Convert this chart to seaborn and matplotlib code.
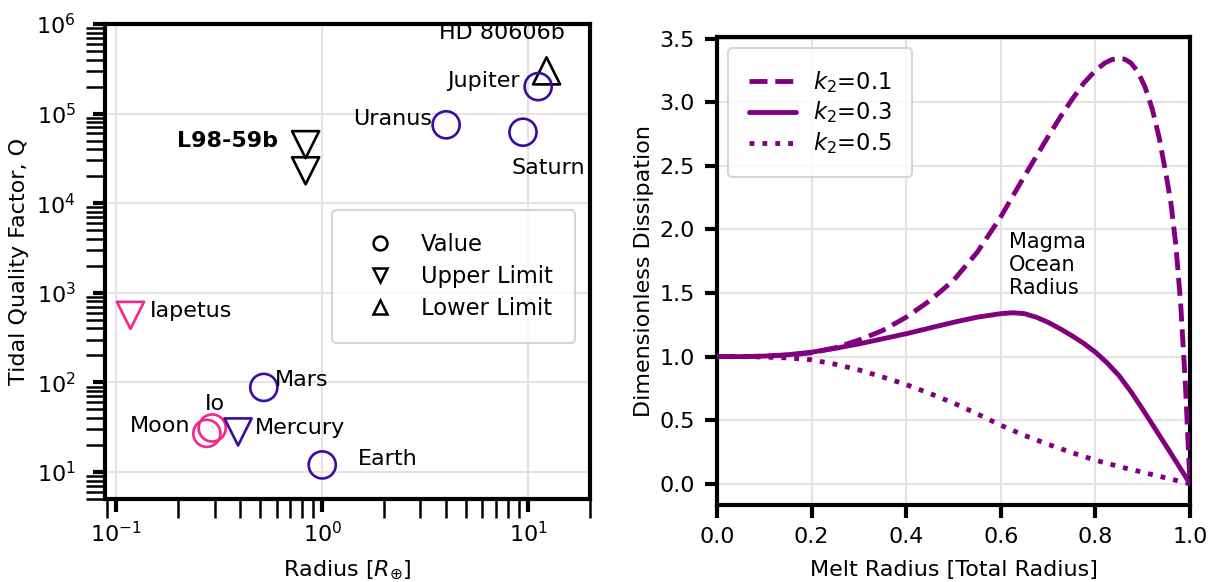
import numpy as np
import pandas as pd
import matplotlib
matplotlib.use("Agg")
import matplotlib.pyplot as plt
from matplotlib.lines import Line2D
from matplotlib.ticker import LogLocator, NullFormatter
import seaborn as sns

# ---------------- data: left panel ----------------
bodies = ["Jupiter", "HD 80606b", "Uranus", "Saturn", "L98-59b", "L98-59b",
          "Iapetus", "Mars", "Io", "Moon", "Mercury", "Earth"]
radius = [11.2, 12.3, 4.0, 9.45, 0.83, 0.83, 0.117, 0.52, 0.292, 0.275, 0.39, 1.0]
quality = [2.0e5, 3.0e5, 7.5e4, 6.2e4, 4.5e4, 2.3e4, 560, 88, 31, 27, 28, 12]
kind = ["Value", "Lower Limit", "Value", "Value", "Upper Limit", "Upper Limit",
        "Upper Limit", "Value", "Value", "Value", "Upper Limit", "Value"]
group = ["giant", "exo", "giant", "giant", "exo", "exo",
         "moon", "planet", "moon", "moon", "planet", "planet"]

# ---------------- data: right panel ----------------
x_k01 = [0.0, 0.05, 0.1, 0.15, 0.2, 0.25, 0.3, 0.35, 0.4, 0.45, 0.5, 0.55, 0.6,
         0.65, 0.7, 0.725, 0.75, 0.775, 0.8, 0.82, 0.835, 0.85, 0.862, 0.875,
         0.89, 0.905, 0.92, 0.935, 0.95, 0.96, 0.97, 0.98, 0.99, 0.995, 1.0]
diss_k01 = [1.0, 1.0, 1.003, 1.012, 1.03, 1.07, 1.13, 1.205, 1.31, 1.44, 1.60,
            1.82, 2.10, 2.42, 2.73, 2.88, 3.02, 3.15, 3.25, 3.31, 3.337, 3.347,
            3.34, 3.31, 3.24, 3.12, 2.95, 2.72, 2.42, 2.20, 1.88, 1.43, 0.80,
            0.40, 0.0]
x_k03 = [0.0, 0.05, 0.1, 0.15, 0.2, 0.25, 0.3, 0.35, 0.4, 0.45, 0.5, 0.55, 0.6,
         0.625, 0.65, 0.675, 0.7, 0.725, 0.75, 0.775, 0.8, 0.825, 0.85, 0.875,
         0.9, 0.925, 0.95, 0.975, 1.0]
diss_k03 = [1.0, 1.0, 1.004, 1.015, 1.035, 1.065, 1.10, 1.14, 1.18, 1.225, 1.27,
            1.31, 1.338, 1.345, 1.338, 1.31, 1.27, 1.22, 1.165, 1.105, 1.035,
            0.95, 0.85, 0.725, 0.585, 0.44, 0.295, 0.148, 0.0]
x_k05 = [0.0, 0.05, 0.1, 0.15, 0.2, 0.25, 0.3, 0.35, 0.4, 0.45, 0.5, 0.55, 0.6,
         0.65, 0.7, 0.75, 0.8, 0.85, 0.9, 0.95, 1.0]
diss_k05 = [1.0, 1.0, 0.997, 0.99, 0.975, 0.94, 0.895, 0.84, 0.78, 0.71, 0.635,
            0.55, 0.46, 0.38, 0.31, 0.245, 0.185, 0.135, 0.09, 0.045, 0.0]
k2_labels = [r"$k_2$=0.1", r"$k_2$=0.3", r"$k_2$=0.5"]

# ---------------- styling ----------------
sns.set_style("white")
FS = 16
LFS = 16.3
plt.rcParams.update({
    "font.family": ["DejaVu Sans"],
    "text.color": "black",
    "axes.labelcolor": "black",
    "xtick.color": "black",
    "ytick.color": "black",
    "axes.edgecolor": "black",
    "font.size": FS,
})

DPI = 100
fig = plt.figure(figsize=(1211 / DPI, 582 / DPI), dpi=DPI)
axL = fig.add_axes([105 / 1211, 1 - 499 / 582, 485 / 1211, 475 / 582])
axR = fig.add_axes([717 / 1211, 1 - 505 / 582, 473 / 1211, 468 / 582])

colors = {"giant": "#3a0ca3", "planet": "#3a0ca3", "moon": "#f72585", "exo": "black"}
markers = {"Value": "o", "Upper Limit": "v", "Lower Limit": "^"}

df = pd.DataFrame({"body": bodies, "R": radius, "Q": quality,
                   "kind": kind, "group": group})

for (g, k), sub in df.groupby(["group", "kind"]):
    sns.scatterplot(data=sub, x="R", y="Q", ax=axL, marker=markers[k], s=380,
                    legend=False, zorder=3)
    coll = axL.collections[-1]
    coll.set_facecolor("none")
    coll.set_edgecolor(colors[g])
    coll.set_linewidth(1.9)

axL.set_xscale("log")
axL.set_yscale("log")
axL.set_xlim(0.088, 20)
axL.set_ylim(5, 1e6)

# labels: (offset in points, ha, weight)
label_pos = {
    "Jupiter": (-13, 4, "right", "normal"),
    "HD 80606b": (-32, 27, "center", "normal"),
    "Uranus": (-10, 4, "right", "normal"),
    "Saturn": (18, -26, "center", "normal"),
    "L98-59b": (-20, 3, "right", "bold"),
    "Iapetus": (14, 3, "left", "normal"),
    "Mars": (8, 5, "left", "normal"),
    "Io": (2, 17, "center", "normal"),
    "Moon": (-12, 5, "right", "normal"),
    "Mercury": (12, 3, "left", "normal"),
    "Earth": (26, 4, "left", "normal"),
}
done = set()
for b, r, q in zip(bodies, radius, quality):
    if b in done:
        continue
    done.add(b)
    dx, dy, ha, wt = label_pos[b]
    axL.annotate(b, (r, q), xytext=(dx, dy), textcoords="offset points",
                 ha=ha, va="center", fontsize=FS, fontweight=wt, zorder=4)

axL.set_xlabel(r"Radius [$R_{\oplus}$]", fontsize=FS, labelpad=9)
axL.set_ylabel("Tidal Quality Factor, Q", fontsize=FS, labelpad=5)
axL.yaxis.set_major_locator(LogLocator(base=10, numticks=12))
axL.yaxis.set_minor_locator(LogLocator(base=10, subs=np.arange(2, 10), numticks=12))
axL.yaxis.set_minor_formatter(NullFormatter())
axL.xaxis.set_minor_formatter(NullFormatter())
axL.tick_params(which="both", bottom=True, left=True, top=False, right=False)
axL.tick_params(which="major", direction="out", length=9, width=3, pad=7,
                labelsize=FS)
axL.tick_params(axis="y", which="major", pad=12)
axL.tick_params(which="minor", direction="out", length=14, width=1.8)
axL.grid(True, which="major", color="#e3e3e3", lw=1.5, zorder=0)

leg_handles = [Line2D([], [], ls="none", marker=markers[k], mfc="none", mec="black",
                      mew=1.8, ms=10) for k in ["Value", "Upper Limit", "Lower Limit"]]
legL = axL.legend(leg_handles, ["Value", "Upper Limit", "Lower Limit"], loc="upper left",
                  bbox_to_anchor=(0.469, 0.608), borderaxespad=0, borderpad=1.0,
                  labelspacing=0.4, handlelength=2.2, handletextpad=0.7,
                  fontsize=LFS, frameon=True, fancybox=True)
legL.get_frame().set_edgecolor("#cccccc")
legL.get_frame().set_linewidth(1.5)

# ---------------- right panel ----------------
for xs, ys, ls, lab in zip([x_k01, x_k03, x_k05], [diss_k01, diss_k03, diss_k05],
                           ["--", "-", ":"], k2_labels):
    sns.lineplot(x=xs, y=ys, ax=axR, color="purple", linestyle=ls, lw=3.5,
                 label=lab, zorder=3)
axR.set_xlim(0, 1)
axR.set_yticks(np.arange(0, 3.51, 0.5))
axR.set_xticks(np.arange(0, 1.01, 0.2))
axR.tick_params(which="major", bottom=True, left=True, direction="out", length=9,
                width=3, pad=7, labelsize=FS)
axR.grid(True, color="#e3e3e3", lw=1.5, zorder=0)
axR.set_xlabel("Melt Radius [Total Radius]", fontsize=FS, labelpad=9)
axR.set_ylabel("Dimensionless Dissipation", fontsize=FS)
axR.text(0.617, 1.98, "Magma\nOcean\nRadius", fontsize=15, ha="left", va="top")
legR = axR.legend(loc="upper left", borderpad=0.9, labelspacing=0.22,
                  handlelength=2.1, handletextpad=0.75, fontsize=LFS,
                  fancybox=True, frameon=True)
legR.get_frame().set_edgecolor("#cccccc")
legR.get_frame().set_linewidth(1.5)

for ax in (axL, axR):
    for sp in ax.spines.values():
        sp.set_visible(True)
        sp.set_linewidth(3)
        sp.set_color("black")

fig.savefig("out.png", dpi=DPI)
